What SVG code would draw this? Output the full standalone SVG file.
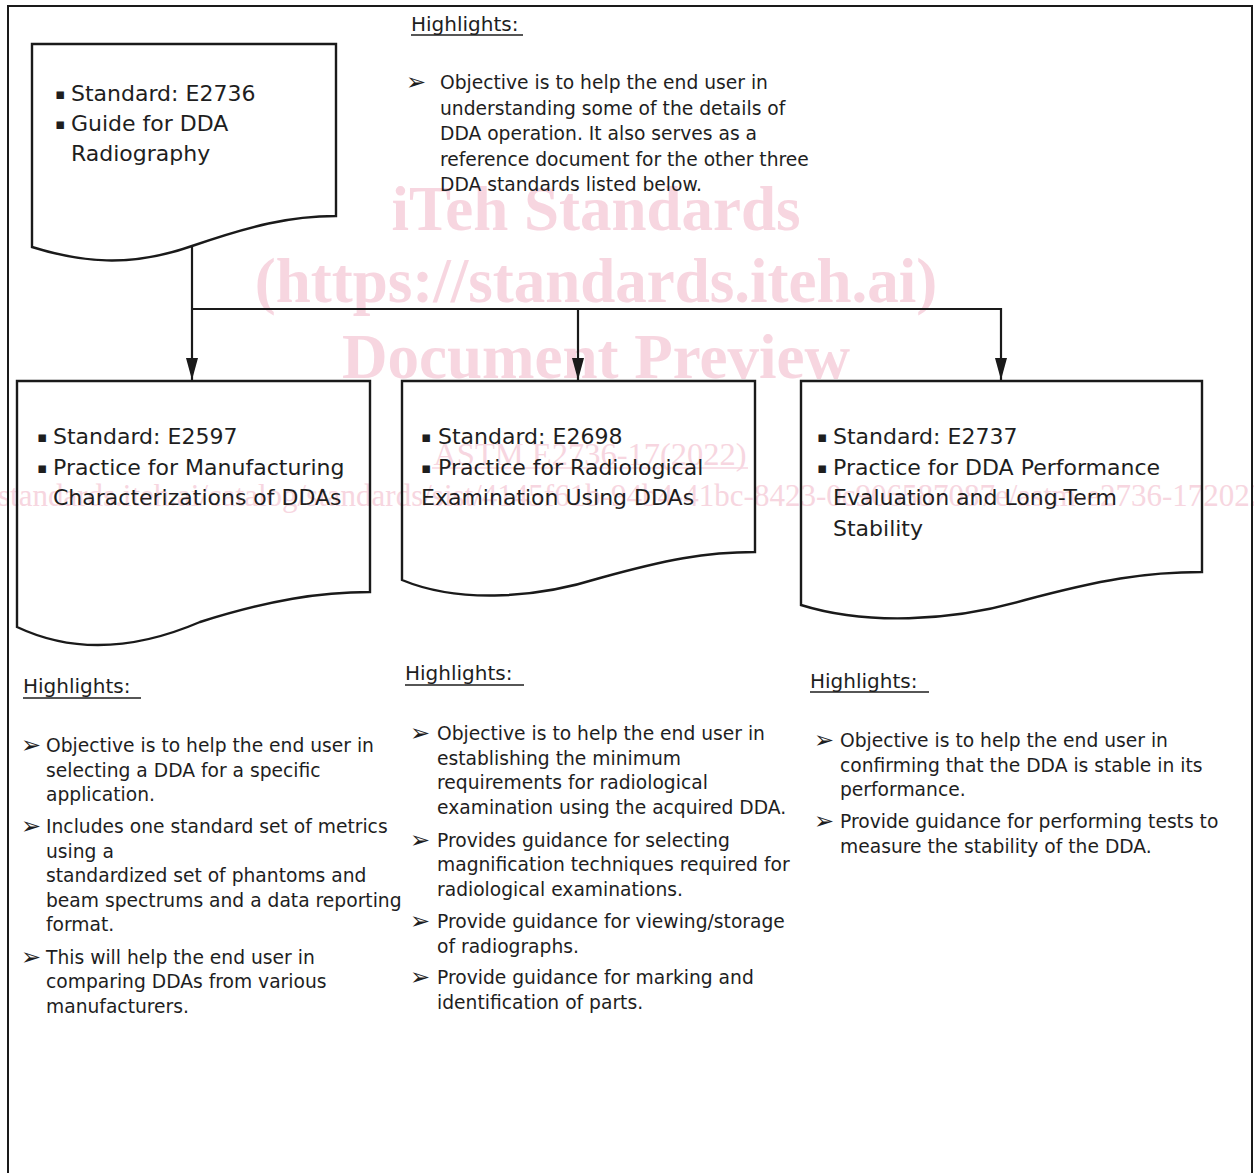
<svg xmlns="http://www.w3.org/2000/svg" width="1254" height="1173" viewBox="0 0 1254 1173">
<style>
.wm{font-family:"Liberation Serif","Times New Roman",serif;fill:#f7d6e0}
.wmb{font-weight:bold;font-size:63px}
.doc{fill:none;stroke:#1a1a1a;stroke-width:2.4;stroke-linejoin:miter}
.bt{font-family:"DejaVu Sans",Verdana,sans-serif;font-size:22px;fill:#1e1e1e}
.bul{font-family:"DejaVu Sans",sans-serif;font-size:15px;fill:#1e1e1e}
.hd{font-family:"DejaVu Sans",Verdana,sans-serif;font-size:20px;fill:#1e1e1e}
.ul{stroke:#1e1e1e;stroke-width:1.4}
.tx{font-family:"DejaVu Sans",Verdana,sans-serif;font-size:18.7px;fill:#1e1e1e}
.ar{font-family:"DejaVu Sans",sans-serif;font-size:24px;font-weight:bold;fill:#1e1e1e}
.con{fill:none;stroke:#1a1a1a;stroke-width:2.2}
</style>
<defs>
<marker id="ahd" markerUnits="userSpaceOnUse" markerWidth="22" markerHeight="12" refX="22" refY="6" orient="auto" viewBox="0 0 22 12">
<path d="M0,0 L22,6 L0,12 Z" fill="#1a1a1a"/>
</marker>
</defs>
<rect width="1254" height="1173" fill="#ffffff"/>

<g id="watermark">
<text class="wm wmb" x="596" y="230" text-anchor="middle">iTeh Standards</text>
<text class="wm wmb" x="596" y="302" text-anchor="middle">(https://standards.iteh.ai)</text>
<text class="wm wmb" x="596" y="378" text-anchor="middle">Document Preview</text>
<text class="wm" x="590" y="465" font-size="32.5" text-anchor="middle">ASTM E2736-17(2022)</text>
<line x1="432" y1="468" x2="748" y2="468" stroke="#f7d6e0" stroke-width="1.5"/>
<text class="wm" x="-2" y="506" font-size="31">standards.iteh.ai/catalog/standards/sist/4145f61b-94b4-41bc-8423-0c906587087e/astm-e2736-172022</text>
</g>

<path id="frame" d="M8,1175 V6 H1252 V1175" fill="none" stroke="#1a1a1a" stroke-width="2"/>

<g id="connectors">
<path class="con" d="M192,246 V380" marker-end="url(#ahd)"/>
<path class="con" d="M192,309 H1001 V380" marker-end="url(#ahd)"/>
<path class="con" d="M578,309 V380" marker-end="url(#ahd)"/>
</g>

<g id="node-e2736">
<path class="doc" d="M32,44 H336 V216 C290,216 250,226 192,246 C130,268 80,262 32,247 Z"/>
<text class="bul" x="55" y="99">▪</text>
<text class="bt" x="71" y="101">Standard: E2736</text>
<text class="bul" x="55" y="129">▪</text>
<text class="bt" x="71" y="131">Guide for DDA</text>
<text class="bt" x="71" y="161">Radiography</text>
</g>

<g id="node-e2597">
<path class="doc" d="M17,381 H370 V592 C320,592 270,600 200,622 C130,652 70,652 17,627 Z"/>
<text class="bul" x="37" y="442">▪</text>
<text class="bt" x="53" y="444">Standard: E2597</text>
<text class="bul" x="37" y="473">▪</text>
<text class="bt" x="53" y="475">Practice for Manufacturing</text>
<text class="bt" x="53" y="505">Characterizations of DDAs</text>
</g>

<g id="node-e2698">
<path class="doc" d="M402,381 H755 V552 C705,552 665,560 600,578 C530,600 455,602 402,580 Z"/>
<text class="bul" x="421" y="442">▪</text>
<text class="bt" x="438" y="444">Standard: E2698</text>
<text class="bul" x="421" y="473">▪</text>
<text class="bt" x="438" y="475">Practice for Radiological</text>
<text class="bt" x="421" y="505">Examination Using DDAs</text>
</g>

<g id="node-e2737">
<path class="doc" d="M801,381 H1202 V572 C1145,572 1100,580 1025,600 C950,622 865,625 801,605 Z"/>
<text class="bul" x="817" y="442">▪</text>
<text class="bt" x="833" y="444">Standard: E2737</text>
<text class="bul" x="817" y="473">▪</text>
<text class="bt" x="833" y="475">Practice for DDA Performance</text>
<text class="bt" x="833" y="505">Evaluation and Long-Term</text>
<text class="bt" x="833" y="536">Stability</text>
</g>

<g id="highlights-e2736">
<text class="hd" x="411" y="31">Highlights:</text>
<line class="ul" x1="411" y1="35" x2="523" y2="35"/>
<text class="ar" x="406" y="90">➢</text>
<text class="tx"><tspan x="440" y="89">Objective is to help the end user in</tspan><tspan x="440" y="114.5">understanding some of the details of</tspan><tspan x="440" y="140">DDA operation. It also serves as a</tspan><tspan x="440" y="165.5">reference document for the other three</tspan><tspan x="440" y="191">DDA standards listed below.</tspan></text>
</g>

<g id="highlights-e2597">
<text class="hd" x="23" y="693">Highlights:</text>
<line class="ul" x1="23" y1="698" x2="141" y2="698"/>
<text class="ar" x="21" y="753">➢</text>
<text class="ar" x="21" y="834">➢</text>
<text class="ar" x="21" y="965">➢</text>
<text class="tx"><tspan x="46" y="752">Objective is to help the end user in</tspan><tspan x="46" y="777">selecting a DDA for a specific</tspan><tspan x="46" y="801">application.</tspan><tspan x="46" y="833">Includes one standard set of metrics</tspan><tspan x="46" y="858">using a</tspan><tspan x="46" y="882">standardized set of phantoms and</tspan><tspan x="46" y="907">beam spectrums and a data reporting</tspan><tspan x="46" y="931">format.</tspan><tspan x="46" y="964">This will help the end user in</tspan><tspan x="46" y="988">comparing DDAs from various</tspan><tspan x="46" y="1013">manufacturers.</tspan></text>
</g>

<g id="highlights-e2698">
<text class="hd" x="405" y="680">Highlights:</text>
<line class="ul" x1="405" y1="685" x2="524" y2="685"/>
<text class="ar" x="410" y="741">➢</text>
<text class="ar" x="410" y="848">➢</text>
<text class="ar" x="410" y="929">➢</text>
<text class="ar" x="410" y="985">➢</text>
<text class="tx"><tspan x="437" y="740">Objective is to help the end user in</tspan><tspan x="437" y="765">establishing the minimum</tspan><tspan x="437" y="789">requirements for radiological</tspan><tspan x="437" y="814">examination using the acquired DDA.</tspan><tspan x="437" y="847">Provides guidance for selecting</tspan><tspan x="437" y="871">magnification techniques required for</tspan><tspan x="437" y="896">radiological examinations.</tspan><tspan x="437" y="928">Provide guidance for viewing/storage</tspan><tspan x="437" y="953">of radiographs.</tspan><tspan x="437" y="984">Provide guidance for marking and</tspan><tspan x="437" y="1009">identification of parts.</tspan></text>
</g>

<g id="highlights-e2737">
<text class="hd" x="810" y="688">Highlights:</text>
<line class="ul" x1="810" y1="692" x2="929" y2="692"/>
<text class="ar" x="814" y="748">➢</text>
<text class="ar" x="814" y="829">➢</text>
<text class="tx"><tspan x="840" y="747">Objective is to help the end user in</tspan><tspan x="840" y="772">confirming that the DDA is stable in its</tspan><tspan x="840" y="796">performance.</tspan><tspan x="840" y="828">Provide guidance for performing tests to</tspan><tspan x="840" y="853">measure the stability of the DDA.</tspan></text>
</g>
</svg>
